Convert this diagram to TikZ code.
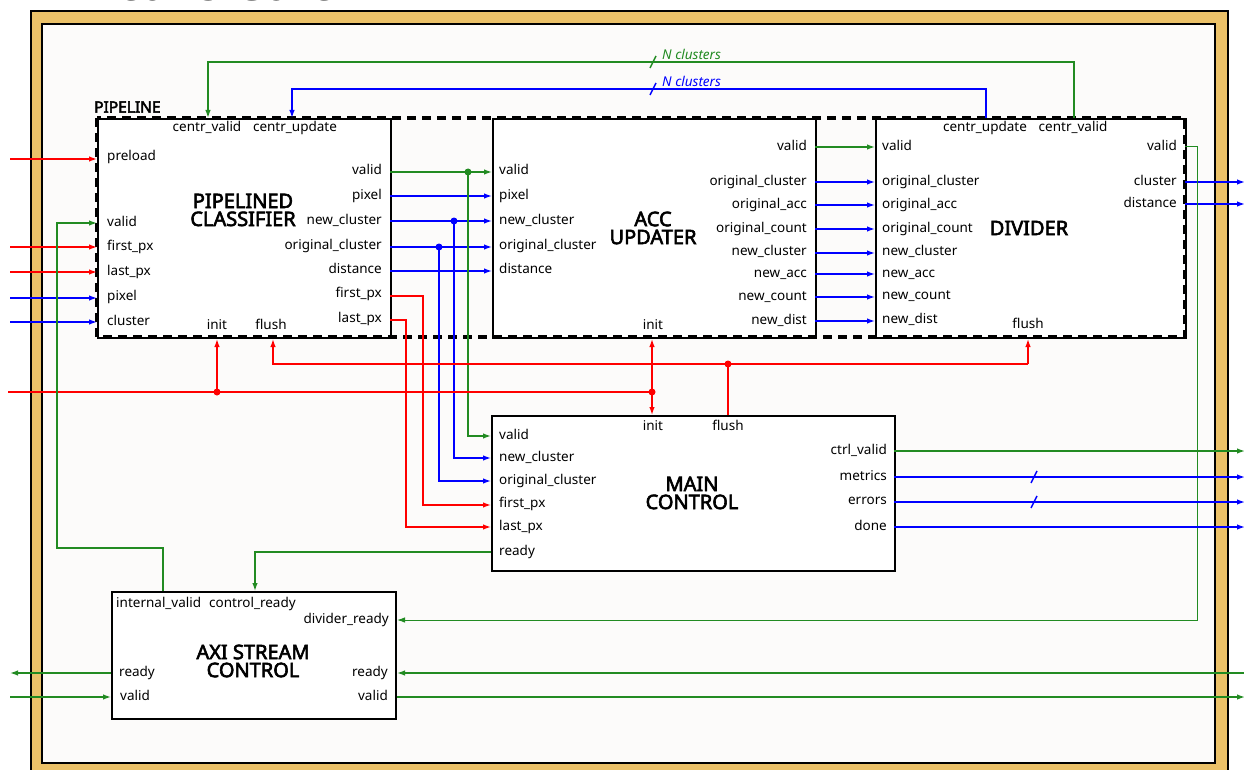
\documentclass[tikz,border=0pt]{standalone}
\usepackage{fontspec}
\setmainfont{Noto Sans}
\newfontfamily\bfam{Noto Sans}[FakeBold=3]
\usetikzlibrary{arrows.meta}
\definecolor{gold}{RGB}{235,193,104}
\definecolor{bg}{RGB}{252,251,250}
\definecolor{sgreen}{RGB}{34,139,34}
\definecolor{sred}{RGB}{255,0,0}
\definecolor{sblue}{RGB}{0,0,255}
\begin{document}
\begin{tikzpicture}[x=1pt,y=-1pt,
  blk/.style={draw=black, line width=2pt, fill=white, inner sep=0pt, anchor=north west},
  lbl/.style={font=\fontsize{13.5}{14}\selectfont, text height=10pt, text depth=3pt, inner sep=0pt},
  lw/.style={lbl, anchor=west},
  le/.style={lbl, anchor=east},
  lc/.style={lbl, anchor=center},
  ttl/.style={font=\fontsize{20}{18}\selectfont\bfam, align=center, inner sep=0pt},
  wire/.style={line width=1.3pt},
  sig/.style={wire, -{Latex[length=8pt,width=5.5pt]}},
  R/.style={draw=sred}, B/.style={draw=sblue}, G/.style={draw=sgreen},
  dotR/.style={circle, fill=sred, inner sep=0pt, minimum size=7pt},
  dotB/.style={circle, fill=sblue, inner sep=0pt, minimum size=7pt},
  dotG/.style={circle, fill=sgreen, inner sep=0pt, minimum size=7pt},
  busmark/.style={line width=1.4pt}
]
\useasboundingbox (0,0) rectangle (1244,770);
% frame
\node[draw=black, line width=2pt, fill=gold, anchor=north west, minimum width=1197pt, minimum height=770pt, inner sep=0pt] (outer) at (30,10) {};
\node[draw=black, line width=2pt, fill=bg, anchor=north west, minimum width=1173pt, minimum height=739pt, inner sep=0pt] (inner) at (41,23) {};
\node[anchor=base west, inner sep=0pt, font=\fontsize{47}{47}\selectfont] (title) at (28,1) {K-means Core};

% boxes
\node[blk, minimum width=293pt, minimum height=219pt] (pc) at (97,118) {};
\node[blk, minimum width=323pt, minimum height=219pt] (acc) at (492,118) {};
\node[blk, minimum width=310pt, minimum height=219pt] (div) at (875,118) {};
\node[blk, minimum width=403pt, minimum height=155pt] (mc) at (491,415) {};
\node[blk, minimum width=284pt, minimum height=127pt] (axi) at (111,591) {};
\draw[line width=3.5pt, dash pattern=on 9pt off 6pt] (97,118) rectangle (1185,337);
\node[anchor=west, inner sep=0pt, font=\fontsize{15.5}{16}\selectfont\bfam] (plbl) at (94,107) {PIPELINE};

% titles
\node[ttl] (tpc) at (243,210) {PIPELINED\\CLASSIFIER};
\node[ttl] (tacc) at (653,228) {ACC\\UPDATER};
\node[ttl] (tdiv) at (1029,228) {DIVIDER};
\node[ttl] (tmc) at (692,493) {MAIN\\CONTROL};
\node[ttl] (taxi) at (253,661) {AXI STREAM\\CONTROL};

% classifier labels
\node[lc] at (207,128) {centr\_valid};
\node[lc] at (295,128) {centr\_update};
\node[lw] at (107,157) {preload};
\node[lw] at (107,223) {valid};
\node[lw] at (107,247) {first\_px};
\node[lw] at (107,272) {last\_px};
\node[lw] at (107,297) {pixel};
\node[lw] at (107,322) {cluster};
\node[lc] at (217,326) {init};
\node[lc] at (271,326) {flush};
\node[le] at (382,171) {valid};
\node[le] at (382,196) {pixel};
\node[le] at (382,221) {new\_cluster};
\node[le] at (382,246) {original\_cluster};
\node[le] at (382,270) {distance};
\node[le] at (382,294) {first\_px};
\node[le] at (382,319) {last\_px};

% acc labels
\node[lw] at (499,171) {valid};
\node[lw] at (499,196) {pixel};
\node[lw] at (499,221) {new\_cluster};
\node[lw] at (499,246) {original\_cluster};
\node[lw] at (499,270) {distance};
\node[lc] at (653,326) {init};
\node[le] at (807,147) {valid};
\node[le] at (807,182) {original\_cluster};
\node[le] at (807,205) {original\_acc};
\node[le] at (807,229) {original\_count};
\node[le] at (807,252) {new\_cluster};
\node[le] at (807,274) {new\_acc};
\node[le] at (807,297) {new\_count};
\node[le] at (807,321) {new\_dist};

% divider labels
\node[lc] at (985,128) {centr\_update};
\node[lc] at (1073,128) {centr\_valid};
\node[lw] at (882,147) {valid};
\node[lw] at (882,182) {original\_cluster};
\node[lw] at (882,205) {original\_acc};
\node[lw] at (882,229) {original\_count};
\node[lw] at (882,252) {new\_cluster};
\node[lw] at (882,274) {new\_acc};
\node[lw] at (882,296) {new\_count};
\node[lw] at (882,320) {new\_dist};
\node[lc] at (1028,325) {flush};
\node[le] at (1177,147) {valid};
\node[le] at (1177,182) {cluster};
\node[le] at (1177,204) {distance};

% main control labels
\node[lc] at (653,427) {init};
\node[lc] at (728,427) {flush};
\node[lw] at (499,436) {valid};
\node[lw] at (499,458) {new\_cluster};
\node[lw] at (499,481) {original\_cluster};
\node[lw] at (499,504) {first\_px};
\node[lw] at (499,527) {last\_px};
\node[lw] at (499,552) {ready};
\node[le] at (887,451) {ctrl\_valid};
\node[le] at (887,477) {metrics};
\node[le] at (887,501) {errors};
\node[le] at (887,527) {done};

% axi labels
\node[lw] at (116,604) {internal\_valid};
\node[lw] at (209,604) {control\_ready};
\node[le] at (389,620) {divider\_ready};
\node[lw] at (119,673) {ready};
\node[lw] at (120,697) {valid};
\node[le] at (388,673) {ready};
\node[le] at (388,697) {valid};

% port coordinates
\coordinate (inPre) at (10,159);
\coordinate (inFirst) at (10,247);
\coordinate (inLast) at (10,272);
\coordinate (inPix) at (10,298);
\coordinate (inClu) at (10,322);
\coordinate (inInit) at (8,392);
\coordinate (axiInL) at (10,697);
\coordinate (axiOutL) at (10,673);
\coordinate (axiInR) at (1245,673);
\coordinate (axiOutR) at (1245,697);
\coordinate (outClu) at (1245,182);
\coordinate (outDist) at (1245,204);
\coordinate (outCtrl) at (1245,451);
\coordinate (outMet) at (1245,477);
\coordinate (outErr) at (1245,502);
\coordinate (outDone) at (1245,527);

% external inputs to classifier
\draw[sig,R] (inPre) -- (pc.west |- inPre);
\draw[sig,R] (inFirst) -- (pc.west |- inFirst);
\draw[sig,R] (inLast) -- (pc.west |- inLast);
\draw[sig,B] (inPix) -- (pc.west |- inPix);
\draw[sig,B] (inClu) -- (pc.west |- inClu);

% classifier -> acc
\draw[sig,G] (390,172) -- (492,172);
\draw[sig,B] (390,196) -- (492,196);
\draw[sig,B] (390,221) -- (492,221);
\draw[sig,B] (390,247) -- (492,247);
\draw[sig,B] (390,271) -- (492,271);
\node[dotG] (jv) at (468,172) {};
\node[dotB] (jn) at (454,221) {};
\node[dotB] (jo) at (439,247) {};
% classifier -> main
\draw[sig,G] (jv.center) -- (468,436) -- (mc.west |- 0,436);
\draw[sig,B] (jn.center) -- (454,458) -- (mc.west |- 0,458);
\draw[sig,B] (jo.center) -- (439,481) -- (mc.west |- 0,481);
\draw[sig,R] (390,296) -- (423,296) -- (423,505) -- (mc.west |- 0,505);
\draw[sig,R] (390,320) -- (406,320) -- (406,527) -- (mc.west |- 0,527);

% acc -> divider
\draw[sig,G] (815,147) -- (875,147);
\foreach \yy in {182,205,229,253,274,297,321} {\draw[sig,B] (815,\yy) -- (875,\yy);}

% centroid feedback
\draw[sig,G] (1074,118) -- (1074,62) -- (208,62) -- (pc.north -| 208,0);
\draw[sig,B] (986,118) -- (986,89) -- (292,89) -- (pc.north -| 292,0);
\draw[busmark,G] (650,68) -- (656,56);
\draw[busmark,B] (650,95) -- (656,83);
\node[anchor=west, inner sep=0pt, text=sgreen, font=\fontsize{13.5}{12}\selectfont\itshape] (nc1) at (662,54) {N clusters};
\node[anchor=west, inner sep=0pt, text=sblue, font=\fontsize{13.5}{12}\selectfont\itshape] (nc2) at (662,81) {N clusters};

% init / flush
\draw[wire,R] (inInit) -- (652,392);
\node[dotR] (ji1) at (217,392) {};
\node[dotR] (ji2) at (652,392) {};
\draw[sig,R] (ji1.center) -- (pc.south -| 217,0);
\draw[sig,R] (ji2.center) -- (acc.south -| 652,0);
\draw[sig,R] (ji2.center) -- (mc.north -| 652,0);
\draw[wire,R] (mc.north -| 728,0) -- (728,364);
\node[dotR] (jf) at (728,364) {};
\draw[sig,R] (1028,364) -- (273,364) -- (pc.south -| 273,0);
\draw[sig,R] (1028,364) -- (div.south -| 1028,0);

% divider outputs
\draw[sig,B] (1185,182) -- (outClu);
\draw[sig,B] (1185,204) -- (outDist);
\draw[sig,G, line width=1pt] (1185,147) -- (1197,147) -- (1197,620) -- (axi.east |- 0,620);

% main outputs
\draw[sig,G] (894,451) -- (outCtrl);
\draw[sig,B] (894,477) -- (outMet);
\draw[sig,B] (894,502) -- (outErr);
\draw[sig,B] (894,527) -- (outDone);
\draw[busmark,B] (1031,483) -- (1037,471);
\draw[busmark,B] (1031,508) -- (1037,496);
\draw[sig,G] (491,552) -- (255,552) -- (axi.north -| 255,0);

% axi
\draw[sig,G] (163,591) -- (163,548) -- (57,548) -- (57,223) -- (pc.west |- 0,223);
\draw[sig,G] (axi.west |- axiOutL) -- (axiOutL);
\draw[sig,G] (axiInL) -- (axi.west |- axiInL);
\draw[sig,G] (axiInR) -- (axi.east |- axiInR);
\draw[sig,G] (axi.east |- axiOutR) -- (axiOutR);
\end{tikzpicture}
\end{document}
